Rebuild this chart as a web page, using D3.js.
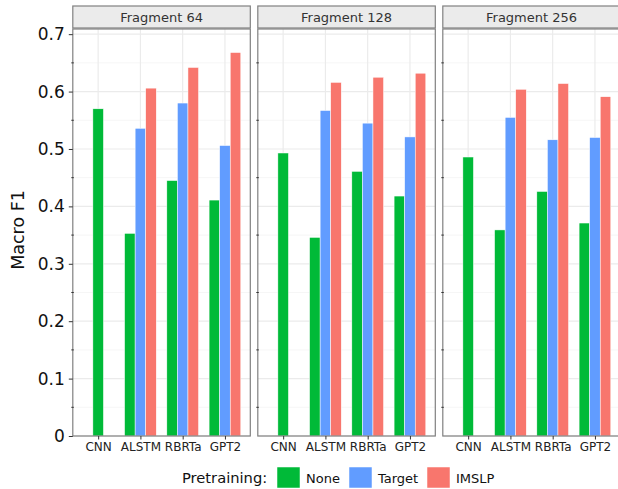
<!DOCTYPE html>
<html>
<head>
<meta charset="utf-8">
<script src="https://cdn.jsdelivr.net/npm/d3@7"></script>
<style>
  body { margin: 0; background: #fff; }
  text { font-family: "DejaVu Sans", sans-serif; }
</style>
</head>
<body>
<div class="canvas"></div>
<script>
const width = 618;
const height = 489;

// data
const fragments = ['Fragment 64', 'Fragment 128', 'Fragment 256'];
const models = ['CNN', 'ALSTM', 'RBRTa', 'GPT2'];
const pretraining = ['None', 'Target', 'IMSLP'];
const colors = ['#00BA38', '#619CFF', '#F8766D'];
const yTicks = [0, 0.1, 0.2, 0.3, 0.4, 0.5, 0.6, 0.7];
const yMinor = [0.05, 0.15, 0.25, 0.35, 0.45, 0.55, 0.65];

// values per fragment: [None, Target, IMSLP] per model (null = not run)
const frag64 = [[0.570, null, null], [0.353, 0.536, 0.606], [0.445, 0.580, 0.642], [0.411, 0.506, 0.668]];
const frag128 = [[0.493, null, null], [0.346, 0.567, 0.616], [0.461, 0.545, 0.625], [0.418, 0.521, 0.632]];
const frag256 = [[0.486, null, null], [0.359, 0.555, 0.604], [0.426, 0.516, 0.614], [0.371, 0.520, 0.591]];
const values = [frag64, frag128, frag256];

const panelTop = 29;
const panelBottom = 436;
const panelW = 177.5;
const panelGap = 7.5;
const panelLeft = 72.8;

const svg = d3.select('.canvas')
  .append('svg')
  .attr('width', width)
  .attr('height', height);

const y = d3.scaleLinear()
  .domain([0, 0.709])
  .range([panelBottom, panelTop]);

fragments.forEach((frag, fi) => {
  const x0 = panelLeft + fi * (panelW + panelGap);
  const x = d3.scalePoint()
    .domain(models)
    .range([0, panelW])
    .padding(0.6);
  const barW = x.step() * 0.25;

  const g = svg.append('g')
    .attr('transform', `translate(${x0},0)`);

  // strip
  g.append('rect')
    .attr('x', 0).attr('y', 6)
    .attr('width', panelW).attr('height', 22)
    .attr('fill', '#EBEBEB')
    .attr('stroke', '#808080')
    .attr('stroke-width', 1.2);
  g.append('text')
    .attr('x', panelW / 2).attr('y', 22)
    .attr('text-anchor', 'middle')
    .attr('font-size', '13px')
    .attr('fill', '#333')
    .text(frag);

  // grid
  g.selectAll('.minor')
    .data(yMinor)
    .enter().append('line')
    .attr('x1', 0).attr('x2', panelW)
    .attr('y1', d => y(d)).attr('y2', d => y(d))
    .attr('stroke', '#F4F4F4')
    .attr('stroke-width', 0.8);
  g.selectAll('.major')
    .data(yTicks)
    .enter().append('line')
    .attr('x1', 0).attr('x2', panelW)
    .attr('y1', d => y(d)).attr('y2', d => y(d))
    .attr('stroke', '#EBEBEB')
    .attr('stroke-width', 1.2);
  g.selectAll('.vgrid')
    .data(models)
    .enter().append('line')
    .attr('x1', d => x(d)).attr('x2', d => x(d))
    .attr('y1', panelTop).attr('y2', panelBottom)
    .attr('stroke', '#EBEBEB')
    .attr('stroke-width', 1.2);

  // bars
  models.forEach((m, mi) => {
    const present = values[fi][mi]
      .map((v, pi) => ({ v: v, pi: pi }))
      .filter(d => d.v !== null);
    const n = present.length;
    g.selectAll(null)
      .data(present)
      .enter().append('rect')
      .attr('x', (d, i) => x(m) + (i - (n - 1) / 2) * barW - barW / 2)
      .attr('y', d => y(d.v))
      .attr('width', barW)
      .attr('height', d => y(0) - y(d.v))
      .attr('fill', d => colors[d.pi])
      .attr('stroke', '#fff')
      .attr('stroke-width', 0.5);
  });

  // panel border
  g.append('rect')
    .attr('x', 0).attr('y', panelTop)
    .attr('width', panelW).attr('height', panelBottom - panelTop)
    .attr('fill', 'none')
    .attr('stroke', '#808080')
    .attr('stroke-width', 1.2);

  // minor ticks on the left edge
  g.selectAll('.mtick')
    .data(yMinor)
    .enter().append('line')
    .attr('x1', -1.5).attr('x2', 1)
    .attr('y1', d => y(d)).attr('y2', d => y(d))
    .attr('stroke', '#333')
    .attr('stroke-width', 1);

  // x axis
  const xAxis = g.append('g')
    .attr('transform', `translate(0,${panelBottom})`)
    .call(d3.axisBottom(x).tickSize(3.5).tickPadding(3));
  xAxis.select('.domain').remove();
  xAxis.selectAll('line').attr('stroke', '#333');
  xAxis.selectAll('text')
    .attr('font-size', '12px')
    .attr('font-family', '"DejaVu Sans", sans-serif')
    .attr('fill', '#222');

  // y axis on first panel only
  if (fi === 0) {
    const yAxis = g.append('g')
      .call(d3.axisLeft(y).tickValues(yTicks).tickSize(4).tickPadding(4)
        .tickFormat(d => d === 0 ? '0' : d3.format('.1f')(d)));
    yAxis.select('.domain').remove();
    yAxis.selectAll('line').attr('stroke', '#333');
    yAxis.selectAll('text')
      .attr('font-size', '17px')
      .attr('font-family', '"DejaVu Sans", sans-serif')
      .attr('fill', '#111');
  }
});

// y title
svg.append('text')
  .attr('transform', 'translate(24,230) rotate(-90)')
  .attr('text-anchor', 'middle')
  .attr('font-size', '17.5px')
  .attr('fill', '#111')
  .text('Macro F1');

// legend
const legend = svg.append('g');
legend.append('text')
  .attr('x', 182).attr('y', 483)
  .attr('font-size', '14.7px')
  .attr('fill', '#111')
  .text('Pretraining:');
const keyX = [277, 349, 427];
pretraining.forEach((p, i) => {
  legend.append('rect')
    .attr('x', keyX[i]).attr('y', 467)
    .attr('width', 23).attr('height', 21)
    .attr('fill', colors[i])
    .attr('stroke', '#fff')
    .attr('stroke-width', 0.5);
  legend.append('text')
    .attr('x', keyX[i] + 29).attr('y', 483)
    .attr('font-size', '13px')
    .attr('fill', '#111')
    .text(p);
});
</script>
</body>
</html>
